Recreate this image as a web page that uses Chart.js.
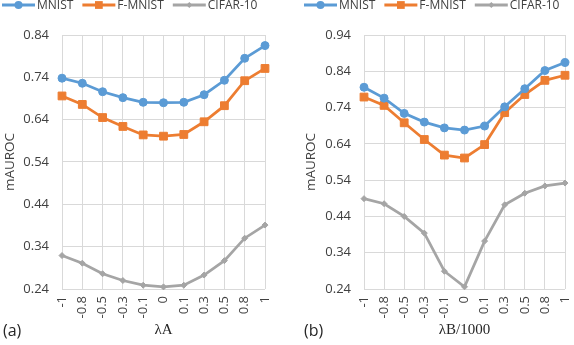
<!DOCTYPE html>
<html>
<head>
<meta charset="utf-8">
<script src="https://cdn.jsdelivr.net/npm/chart.js@4/dist/chart.umd.min.js"></script>
<style>
  body { margin: 0; background: #fff; width: 574px; height: 345px; overflow: hidden; position: relative; font-family: 'Open Sans', sans-serif; }
  .panel { position: absolute; top: 0; width: 287px; height: 345px; }
  .panel canvas { display: block; }
  .tag { position: absolute; top: 320px; font-size: 16px; line-height: 20px; color: #262626; }
</style>
</head>
<body>
<div class="panel" style="left:0"><canvas id="chartA" width="287" height="345"></canvas></div>
<div class="panel" style="left:287px"><canvas id="chartB" width="287" height="345"></canvas></div>
<div class="tag" style="left:3px">(a)</div>
<div class="tag" style="left:304px">(b)</div>
<script>
// values
const categories = ['-1', '-0.8', '-0.5', '-0.3', '-0.1', '0', '0.1', '0.3', '0.5', '0.8', '1'];

const mnistA  = [0.738, 0.726, 0.706, 0.692, 0.681, 0.680, 0.681, 0.699, 0.733, 0.785, 0.815];
const fmnistA = [0.696, 0.676, 0.645, 0.624, 0.604, 0.601, 0.605, 0.635, 0.673, 0.732, 0.761];
const cifarA  = [0.319, 0.301, 0.276, 0.260, 0.249, 0.245, 0.249, 0.273, 0.307, 0.360, 0.391];

const mnistB  = [0.796, 0.766, 0.724, 0.700, 0.684, 0.678, 0.689, 0.742, 0.792, 0.842, 0.864];
const fmnistB = [0.769, 0.746, 0.698, 0.652, 0.609, 0.601, 0.638, 0.726, 0.776, 0.815, 0.829];
const cifarB  = [0.489, 0.475, 0.440, 0.394, 0.289, 0.246, 0.372, 0.472, 0.504, 0.524, 0.532];

const yTicksA = [0.24, 0.34, 0.44, 0.54, 0.64, 0.74, 0.84];
const yTicksB = [0.24, 0.34, 0.44, 0.54, 0.64, 0.74, 0.84, 0.94];

const BLUE = '#5B9BD5', ORANGE = '#ED7D31', GREY = '#A5A5A5';
const GRID = '#D9D9D9', TEXT = '#404040';

function marker(ctx, style, r, x, y) {
    ctx.beginPath();
    if (style === 'circle') {
        ctx.arc(x, y, r, 0, Math.PI * 2);
    } else if (style === 'rect') {
        const s = r * Math.SQRT1_2;
        ctx.rect(x - s, y - s, 2 * s, 2 * s);
    } else {
        ctx.moveTo(x, y - r); ctx.lineTo(x + r, y); ctx.lineTo(x, y + r); ctx.lineTo(x - r, y);
        ctx.closePath();
    }
    ctx.fill();
}

// Excel-style legend: short line with the marker in the middle
const lineLegend = {
    id: 'lineLegend',
    afterDraw(chart, args, opts) {
        const ctx = chart.ctx;
        let x = opts.x;
        const y = opts.y;
        ctx.save();
        ctx.font = '12px "Open Sans"';
        ctx.textBaseline = 'middle';
        chart.data.datasets.forEach((ds) => {
            ctx.strokeStyle = ds.borderColor;
            ctx.fillStyle = ds.borderColor;
            ctx.lineWidth = 3;
            ctx.beginPath();
            ctx.moveTo(x, y);
            ctx.lineTo(x + 33, y);
            ctx.stroke();
            marker(ctx, ds.pointStyle, ds.pointRadius, x + 16.5, y);
            ctx.fillStyle = TEXT;
            ctx.fillText(ds.label, x + 35, y + 0.5);
            x += 35 + ctx.measureText(ds.label).width + 9;
        });
        ctx.restore();
    }
};

function series(label, data, color, style, radius) {
    return {
        label, data,
        borderColor: color,
        backgroundColor: color,
        borderWidth: 2.75,
        pointStyle: style,
        pointRadius: radius,
        pointBorderWidth: 1,
        pointBackgroundColor: color,
        pointBorderColor: color,
        tension: 0,
        clip: 8
    };
}

function makeChart(id, sets, yTicks, xTitle, yWidth, rightPad, titlePad, legendX) {
    return new Chart(document.getElementById(id), {
        type: 'line',
        data: {
            labels: categories,
            datasets: [
                series('MNIST', sets[0], BLUE, 'circle', 4),
                series('F-MNIST', sets[1], ORANGE, 'rect', 5.5),
                series('CIFAR-10', sets[2], GREY, 'rectRot', 3)
            ]
        },
        options: {
            responsive: false,
            animation: false,
            devicePixelRatio: 1,
            layout: { padding: { left: 0, right: rightPad, top: 35, bottom: 0 } },
            plugins: {
                legend: { display: false },
                tooltip: { enabled: false },
                lineLegend: { x: legendX, y: 5 }
            },
            scales: {
                x: {
                    type: 'category',
                    offset: false,
                    grid: { color: GRID, offset: false, drawTicks: false },
                    border: { display: false },
                    ticks: {
                        color: TEXT, autoSkip: false, minRotation: 90, maxRotation: 90,
                        padding: 7, font: { family: 'Open Sans', size: 13 }
                    },
                    title: {
                        display: true, text: xTitle, color: '#262626',
                        font: { family: 'Liberation Serif', size: 15 },
                        padding: { top: 0, bottom: 6 }
                    },
                    afterFit: (s) => {
                        s.height = 56;
                        // keep the plot edges where the layout padding puts them
                        s.paddingLeft = 0;
                        s.paddingRight = 0;
                    }
                },
                y: {
                    min: yTicks[0],
                    max: yTicks[yTicks.length - 1],
                    grid: { color: GRID, drawTicks: false },
                    border: { display: false },
                    afterBuildTicks: (s) => { s.ticks = yTicks.map(v => ({ value: v })); },
                    ticks: {
                        color: TEXT, padding: 13,
                        font: { family: 'Open Sans', size: 13 },
                        callback: (v) => Number(v).toFixed(2)
                    },
                    title: {
                        display: true, text: 'mAUROC', color: TEXT,
                        font: { family: 'Open Sans', size: 13.5 },
                        padding: { top: titlePad, bottom: 0 }
                    },
                    afterFit: (s) => {
                        s.width = yWidth;
                        s.paddingTop = 0;
                        s.paddingBottom = 0;
                    }
                }
            }
        },
        plugins: [lineLegend]
    });
}

makeChart('chartA', [mnistA, fmnistA, cifarA], yTicksA, 'λA', 62, 22, 2, 2);
makeChart('chartB', [mnistB, fmnistB, cifarB], yTicksB, 'λB/1000', 77, 9, 16, 17);
</script>
</body>
</html>
